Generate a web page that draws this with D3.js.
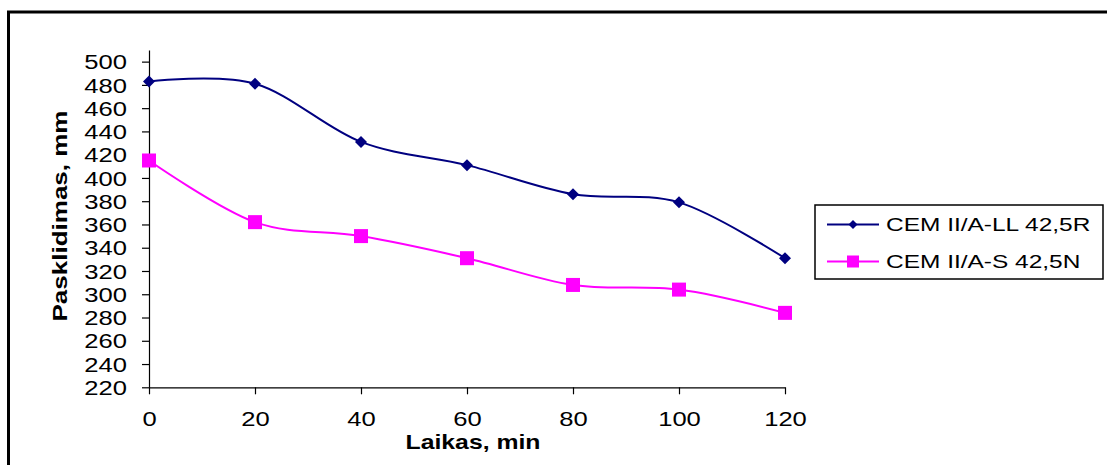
<!DOCTYPE html>
<html>
<head>
<meta charset="utf-8">
<script src="https://cdn.jsdelivr.net/npm/d3@7"></script>
<style>
  html, body { margin: 0; padding: 0; background: #ffffff; }
  svg { display: block; }
  text { font-family: "Liberation Sans", Arial, sans-serif; fill: #000; }
</style>
</head>
<body>
<svg id="chart" width="1107" height="465"></svg>
<script>
// Spread (mm) measured over time (min) for two cement types
const times = [0, 20, 40, 60, 80, 100, 120];
const seriesNames = ["CEM II/A-LL 42,5R", "CEM II/A-S 42,5N"];
const spreadLL = [483, 481, 431, 411, 386, 379, 331];
const spreadS = [415, 362, 350, 331, 308, 304, 284];
const yTicks = [220, 240, 260, 280, 300, 320, 340, 360, 380, 400, 420, 440, 460, 480, 500];
const xTicks = [0, 20, 40, 60, 80, 100, 120];

const svg = d3.select("#chart");
const stretch = 1.28; // wide glyph rendering

// outer frame (left and top edges)
svg.append("path")
  .attr("d", "M8.5,465 L8.5,12 L1107,12")
  .attr("fill", "none").attr("stroke", "#000").attr("stroke-width", 3);

const x = d3.scaleLinear().domain([0, 120]).range([149, 785]);
const y = d3.scaleLinear().domain([220, 510]).range([387.3, 50]);

// y axis
const yAxis = svg.append("g")
  .attr("transform", `translate(${x(0)},0)`)
  .call(d3.axisLeft(y).tickValues(yTicks).tickSize(7).tickSizeOuter(0).tickFormat(d3.format("d")));
yAxis.select(".domain").attr("stroke", "#000").attr("stroke-width", 1.2);
yAxis.selectAll(".tick line").attr("stroke", "#000").attr("stroke-width", 1.2);
yAxis.selectAll(".tick text")
  .attr("x", -22 / stretch).attr("dy", "0.36em")
  .attr("transform", `scale(${stretch},1)`)
  .style("font-size", "20px").style("font-family", "Liberation Sans, Arial, sans-serif");

// x axis
const xAxis = svg.append("g")
  .attr("transform", `translate(0,${y(220)})`)
  .call(d3.axisBottom(x).tickValues(xTicks).tickSize(7).tickSizeOuter(0).tickFormat(d3.format("d")));
xAxis.select(".domain").attr("stroke", "#000").attr("stroke-width", 1.2);
xAxis.selectAll(".tick line").attr("stroke", "#000").attr("stroke-width", 1.2);
xAxis.selectAll(".tick text")
  .attr("y", 38.5).attr("dy", 0)
  .attr("transform", `scale(${stretch},1)`)
  .style("font-size", "20px").style("font-family", "Liberation Sans, Arial, sans-serif");

// axis titles
svg.append("text")
  .attr("transform", `translate(473,449) scale(1.24,1)`)
  .attr("text-anchor", "middle")
  .style("font-size", "20px").style("font-weight", "bold")
  .text("Laikas, min");

svg.append("text")
  .attr("transform", `translate(66.5,216) rotate(-90) scale(1.3,1)`)
  .attr("text-anchor", "middle")
  .style("font-size", "20px").style("font-weight", "bold")
  .text("Pasklidimas, mm");

// smoothed series lines
const line = d3.line()
  .x((d, i) => x(times[i]))
  .y(d => y(d))
  .curve(d3.curveCatmullRom.alpha(0));

const series = [
  { name: seriesNames[0], values: spreadLL, color: "#000080", marker: "diamond" },
  { name: seriesNames[1], values: spreadS, color: "#ff00ff", marker: "square" }
];

function drawMarker(g, type, cx, cy, color, size) {
  if (type === "diamond") {
    const r = size / 2;
    g.append("path")
      .attr("d", `M${cx},${cy - r} L${cx + r},${cy} L${cx},${cy + r} L${cx - r},${cy} Z`)
      .attr("fill", color);
  } else {
    g.append("rect")
      .attr("x", cx - size / 2).attr("y", cy - size / 2)
      .attr("width", size).attr("height", size)
      .attr("fill", color);
  }
}

series.forEach(s => {
  svg.append("path")
    .datum(s.values)
    .attr("d", line)
    .attr("fill", "none")
    .attr("stroke", s.color)
    .attr("stroke-width", 2);
  const g = svg.append("g");
  s.values.forEach((v, i) => {
    drawMarker(g, s.marker, x(times[i]), y(v), s.color, s.marker === "diamond" ? 12 : 14);
  });
});

// legend
const legend = svg.append("g");
legend.append("rect")
  .attr("x", 815).attr("y", 205).attr("width", 288).attr("height", 74)
  .attr("fill", "#fff").attr("stroke", "#000").attr("stroke-width", 1.5);
const legendRows = [224.5, 261.5];
series.forEach((s, i) => {
  const ly = legendRows[i];
  legend.append("line")
    .attr("x1", 827).attr("x2", 879).attr("y1", ly).attr("y2", ly)
    .attr("stroke", s.color).attr("stroke-width", 2);
  drawMarker(legend, s.marker, 853, ly, s.color, s.marker === "diamond" ? 9 : 12);
  legend.append("text")
    .attr("transform", `translate(886,${ly + 6.5}) scale(1.36,1)`)
    .style("font-size", "18px")
    .text(s.name);
});
</script>
</body>
</html>
